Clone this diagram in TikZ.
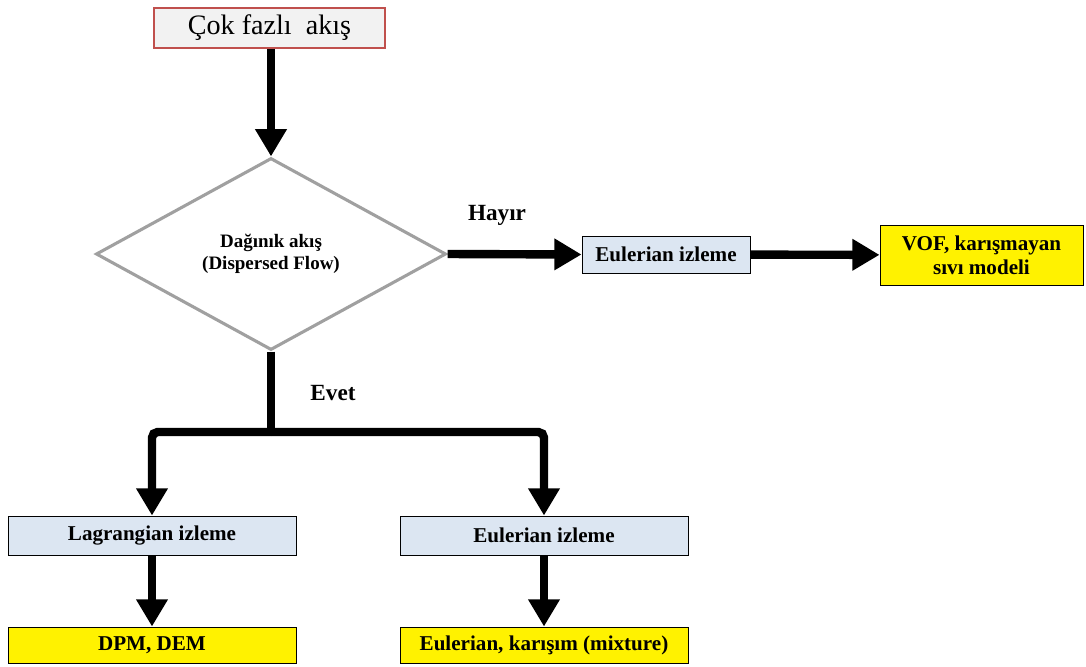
\documentclass[tikz,border=0pt]{standalone}
\usepackage{fontspec}
\setmainfont{Liberation Serif}
\usetikzlibrary{shapes.geometric,arrows.meta}

\definecolor{boxblue}{HTML}{DCE6F2}
\definecolor{boxred}{HTML}{C0504D}
\definecolor{boxgray}{HTML}{F2F2F2}
\definecolor{diagray}{HTML}{A0A0A0}

\begin{document}
\begin{tikzpicture}[x=0.025cm,y=-0.025cm,
			box/.style={draw,rectangle,line width=0.6pt,fill=boxblue,minimum width=7.2cm,minimum height=0.975cm,
				font=\fontsize{15}{17}\selectfont\bfseries,align=center,inner sep=1pt},
			result/.style={box,fill=yellow,minimum height=0.9cm},
			flow/.style={line width=0.21cm,-{Triangle[width=0.75cm,length=0.68cm]}},
			answer/.style={font=\fontsize{16.5}{18}\selectfont\bfseries}]
			\useasboundingbox (0,0) rectangle (1086,666);
			\node (start) [draw=boxred,line width=1.2pt,fill=boxgray,minimum width=5.775cm,minimum height=1cm,
				font=\fontsize{20}{22}\selectfont] at (269.5,28) {Çok fazlı\ \ akış};
			\node (disp) [diamond,draw=diagray,line width=2.2pt,fill=white,minimum width=8.75cm,minimum height=4.8cm,
				inner sep=0pt,align=center,font=\fontsize{13.5}{16}\selectfont\bfseries] at (271,254)
				{Dağınık akış\\(Dispersed Flow)};
			\node (euright) [box,minimum width=4.2cm,minimum height=0.925cm] at (666,254.5) {Eulerian izleme};
			\node (vof) [result,minimum width=5.075cm,minimum height=1.5cm] at (981.5,255)
				{VOF, karışmayan\\sıvı modeli};
			\node (lag) [box] at (152,535.5) {Lagrangian izleme};
			\node (euleft) [box] at (544,535.5) {Eulerian izleme};
			\node (dpm) [result] at (152,645) {DPM, DEM};
			\node (mix) [result] at (544,645) {Eulerian, karışım (mixture)};
			\node (hayir) [answer] at (497,215) {Hayır};
			\node (evet) [answer] at (333,393) {Evet};
			\coordinate (split) at (271,432);

			% arrows
			\draw [flow] (start.south -| disp.north) -- (disp.north);
			\draw [flow] (disp.east) -- (euright.west);
			\draw [flow] (euright) -- (vof);
			\draw [line width=0.21cm] (disp.south) -- ([yshift=-0.1cm]split);
			\draw [flow,rounded corners=4pt] (split) -| (lag.north);
			\draw [flow,rounded corners=4pt] (split) -| (euleft.north);
			\draw [flow] (lag) -- (dpm);
			\draw [flow] (euleft) -- (mix);
		\end{tikzpicture}
\end{document}
